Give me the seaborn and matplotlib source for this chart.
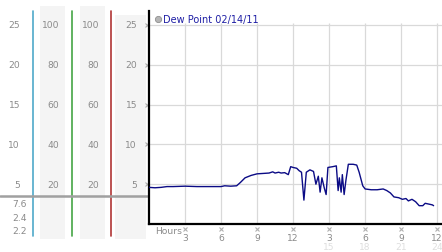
import matplotlib
matplotlib.use("Agg")
import matplotlib.pyplot as plt
from matplotlib.lines import Line2D
from matplotlib.patches import Rectangle
import seaborn as sns
import pandas as pd

# ---------------- data ----------------
hours = [0.0, 0.5, 1.0, 1.5, 2.0, 3.0, 4.0, 5.0, 6.0, 6.3, 6.8, 7.3, 7.6, 8.0, 8.5,
         9.0, 9.5, 10.0, 10.3, 10.5, 10.8, 11.0, 11.3, 11.6, 11.8, 12.0, 12.3, 12.5,
         12.7, 12.9, 13.1, 13.4, 13.7, 13.9, 14.1, 14.25, 14.4, 14.6, 14.75, 14.9,
         15.3, 15.6, 15.75, 15.85, 16.0, 16.1, 16.25, 16.4, 16.6, 17.0, 17.3, 17.5,
         17.8, 18.0, 18.5, 19.0, 19.5, 19.8, 20.1, 20.4, 20.8, 21.1, 21.4, 21.6,
         21.9, 22.2, 22.5, 22.8, 23.0, 23.3, 23.6, 23.7]
dew_point = [4.6, 4.55, 4.6, 4.7, 4.7, 4.75, 4.7, 4.7, 4.7, 4.8, 4.75, 4.8, 5.2, 5.8, 6.1,
             6.3, 6.35, 6.4, 6.55, 6.4, 6.5, 6.4, 6.45, 6.2, 7.2, 7.1, 7.0, 6.7,
             6.5, 3.0, 6.5, 6.8, 6.6, 5.0, 6.0, 4.0, 5.8, 4.5, 3.7, 7.1,
             7.2, 7.3, 4.2, 5.8, 4.0, 6.2, 3.7, 5.5, 7.5, 7.5, 7.4, 6.5,
             4.8, 4.4, 4.3, 4.3, 4.4, 4.2, 3.9, 3.4, 3.3, 3.1, 3.2, 2.9,
             3.1, 2.8, 2.3, 2.3, 2.6, 2.5, 2.4, 2.3]

y_ticks = [5, 10, 15, 20, 25]
col1_labels = ["5", "10", "15", "20", "25"]
col2_labels = ["20", "40", "60", "80", "100"]
col3_labels = ["20", "40", "60", "80", "100"]
col4_labels = ["5", "10", "15", "20", "25"]
stats_labels = ["7.6", "2.4", "2.2"]

x_ticks = [3, 6, 9, 12, 15, 18, 21, 24]
x_labels = ["3", "6", "9", "12", "3", "6", "9", "12"]
x_labels2 = ["", "", "", "", "15", "18", "21", "24"]
legend_label = "Dew Point 02/14/11"

df = pd.DataFrame({"hour": hours, "dew": dew_point})

# ---------------- layout ----------------
sns.set_style("white")
plt.rcParams["font.family"] = ["DejaVu Sans"]
W, H = 442, 253
fig = plt.figure(figsize=(W / 100, H / 100), dpi=100)


def rect(x0, y0, x1, y1):
    return [x0 / W, 1 - y1 / H, (x1 - x0) / W, (y1 - y0) / H]


YTOP = 26.75
PX_PER_UNIT = 213 / YTOP


def pv(py):  # pixel row -> value units
    return (225 - py) / PX_PER_UNIT


GRAY_TXT = "#8a8a8a"
FS = 6.6

# left panel axes: x in pixels, y in value units
axl = fig.add_axes(rect(0, 0, 149, 253))
axl.set_xlim(0, 149)
axl.set_ylim(pv(253), pv(0))
axl.axis("off")

for x0, x1, ytop in [(40, 65, 7), (80, 105, 7), (115, 146, 16)]:
    axl.add_patch(Rectangle((x0, pv(240)), x1 - x0, pv(ytop) - pv(240),
                            color="#f4f4f4", lw=0, zorder=0))

for xl, col in [(33, "#4fa9c9"), (72, "#45a545"), (111, "#b03535")]:
    axl.plot([xl, xl], [pv(12), pv(237)], color=col, lw=1.2, zorder=2)

axl.plot([0, 149], [pv(197), pv(197)], color="#a0a0a0", lw=1.8, zorder=3)

for v, a, b, c, d in zip(y_ticks, col1_labels, col2_labels, col3_labels, col4_labels):
    axl.text(20, v, a, ha="right", va="center", color=GRAY_TXT, fontsize=FS)
    axl.text(59, v, b, ha="right", va="center", color=GRAY_TXT, fontsize=FS)
    axl.text(99, v, c, ha="right", va="center", color=GRAY_TXT, fontsize=FS)
    axl.text(137, v, d, ha="right", va="center", color=GRAY_TXT, fontsize=FS)

for py, s in zip([205, 219, 232], stats_labels):
    axl.text(27, pv(py), s, ha="right", va="center", color=GRAY_TXT, fontsize=FS)

# main axes
ax = fig.add_axes(rect(149, 12, 442, 225))
ax.set_xlim(0, 24.4)
ax.set_ylim(0, YTOP)
ax.patch.set_alpha(0)

ax.hlines(y_ticks, 0, 24.4, color="#d9d9d9", lw=0.9, zorder=1)
ax.vlines(x_ticks, 0, 25.3, color="#d9d9d9", lw=0.9, zorder=1)

sns.lineplot(data=df, x="hour", y="dew", ax=ax, color="#0b0b85", lw=1.0,
             zorder=3, legend=False)

for s in ["top", "right"]:
    ax.spines[s].set_visible(False)
for s in ["left", "bottom"]:
    ax.spines[s].set_color("black")
    ax.spines[s].set_linewidth(1.6)

ax.set_xlabel("")
ax.set_ylabel("")
ax.set_yticks([])
ax.set_xticks(x_ticks)
ax.set_xticklabels(x_labels, color=GRAY_TXT, fontsize=FS)
ax.tick_params(axis="x", length=0, pad=6.5)

# small tick glyphs
ax.plot([-0.2] * len(y_ticks), y_ticks, "x", color="#b0b0b0", ms=2.2, mew=0.8,
        clip_on=False)
ax.plot(x_ticks, [pv(230)] * len(x_ticks), "x", color="#b0b0b0", ms=2.2, mew=0.8,
        clip_on=False)

for xt, s in zip(x_ticks, x_labels2):
    if s:
        ax.text(xt, pv(247.5), s, ha="center", va="center", color="#dedede",
                fontsize=FS, clip_on=False)

fig.text(155 / W, 1 - 232 / H, "Hours", ha="left", va="center", color=GRAY_TXT,
         fontsize=FS)

fig.add_artist(Line2D([158 / W], [1 - 20 / H], marker="o", ms=4.5,
                      color="#b5b5b5", mec="#8f8f8f", mew=0.6,
                      transform=fig.transFigure))
fig.text(163 / W, 1 - 20 / H, legend_label, ha="left", va="center",
         color="#1f1fa5", fontsize=7)

fig.savefig("out.png", dpi=100)
